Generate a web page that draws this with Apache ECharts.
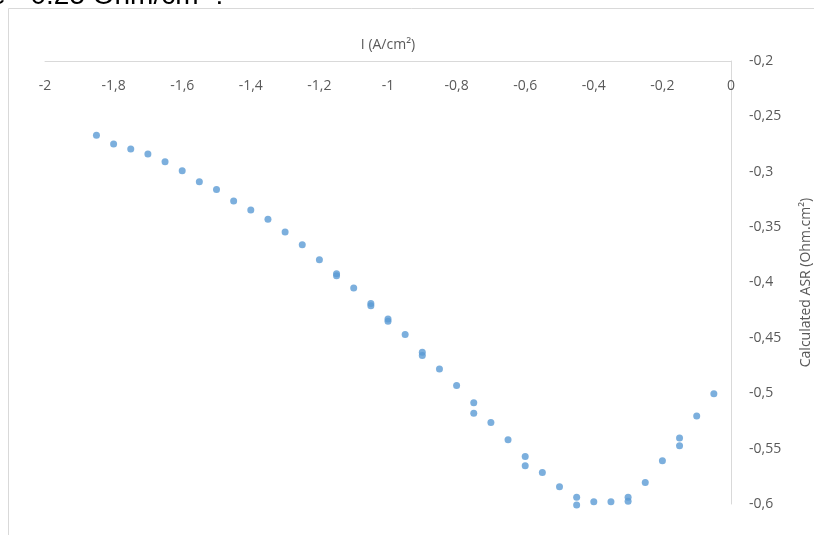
<!DOCTYPE html>
<html>
<head>
<meta charset="utf-8">
<script src="https://cdn.jsdelivr.net/npm/echarts@6/dist/echarts.min.js"></script>
<style>html,body{margin:0;padding:0;background:#fff;overflow:hidden;}#c{width:814px;height:535px;}</style>
</head>
<body>
<div id="c"></div>
<script>
const currentA = [-1.85,-1.8,-1.75,-1.7,-1.65,-1.6,-1.55,-1.5,-1.45,-1.4,-1.35,-1.3,-1.25,-1.2,-1.15,-1.15,-1.1,-1.05,-1.05,-1.0,-1.0,-0.95,-0.9,-0.9,-0.85,-0.8,-0.75,-0.75,-0.7,-0.65,-0.6,-0.6,-0.55,-0.5,-0.45,-0.45,-0.4,-0.35,-0.3,-0.3,-0.25,-0.2,-0.15,-0.15,-0.1,-0.05];
const asrValues = [-0.267,-0.275,-0.2795,-0.284,-0.291,-0.299,-0.309,-0.316,-0.3265,-0.3345,-0.343,-0.3545,-0.366,-0.3795,-0.392,-0.394,-0.405,-0.419,-0.421,-0.433,-0.435,-0.447,-0.463,-0.466,-0.478,-0.493,-0.5085,-0.518,-0.5265,-0.542,-0.557,-0.5655,-0.5715,-0.5845,-0.594,-0.601,-0.598,-0.598,-0.594,-0.5975,-0.5805,-0.561,-0.5405,-0.5475,-0.5205,-0.5005];
const xAxisName = 'I (A/cm²)';
const yAxisName = 'Calculated ASR (Ohm.cm²)';
const topText = 'e - 0.25 Ohm/cm² :';

const fmt = v => String(Math.round(v * 1000) / 1000).replace('.', ',');
const points = currentA.map((x, i) => [x, asrValues[i]]);
const font = '"Open Sans", sans-serif';
const chart = echarts.init(document.getElementById('c'), null, {renderer: 'canvas', width: 814, height: 535});
chart.setOption({
  backgroundColor: '#fff',
  animation: false,
  graphic: [
    {type: 'rect', shape: {x: 8.5, y: 8.5, width: 900, height: 700}, style: {fill: 'none', stroke: '#d9d9d9', lineWidth: 1}, z: 0},
    {type: 'text', x: -10, y: -18, style: {text: topText, font: '28px "Liberation Sans", Arial, sans-serif', fill: '#000', verticalAlign: 'top'}, z: 10}
  ],
  grid: {left: 45, top: 61, width: 686, height: 443, containLabel: false, outerBoundsMode: 'none'},
  xAxis: {
    type: 'value', position: 'top', min: -2, max: 0, interval: 0.2,
    name: xAxisName, nameLocation: 'middle', nameGap: 9,
    nameTextStyle: {color: '#595959', fontSize: 14, fontFamily: font},
    axisLine: {show: true, onZero: false, lineStyle: {color: '#d9d9d9', width: 1}},
    axisTick: {show: false},
    splitLine: {show: false},
    axisLabel: {inside: true, margin: 18, color: '#595959', fontSize: 14, fontFamily: font, formatter: fmt}
  },
  yAxis: {
    type: 'value', position: 'right', min: -0.6, max: -0.2, interval: 0.05,
    name: yAxisName, nameLocation: 'middle', nameGap: 68, nameRotate: 90,
    nameTextStyle: {color: '#595959', fontSize: 14, fontFamily: font},
    axisLine: {show: true, onZero: false, lineStyle: {color: '#d9d9d9', width: 1}},
    axisTick: {show: false},
    splitLine: {show: false},
    axisLabel: {margin: 18, color: '#595959', fontSize: 14, fontFamily: font, formatter: fmt}
  },
  series: [{
    type: 'scatter', data: points, symbol: 'circle', symbolSize: 7, clip: false,
    itemStyle: {color: '#5b9bd5'}
  }]
});
</script>
</body>
</html>
